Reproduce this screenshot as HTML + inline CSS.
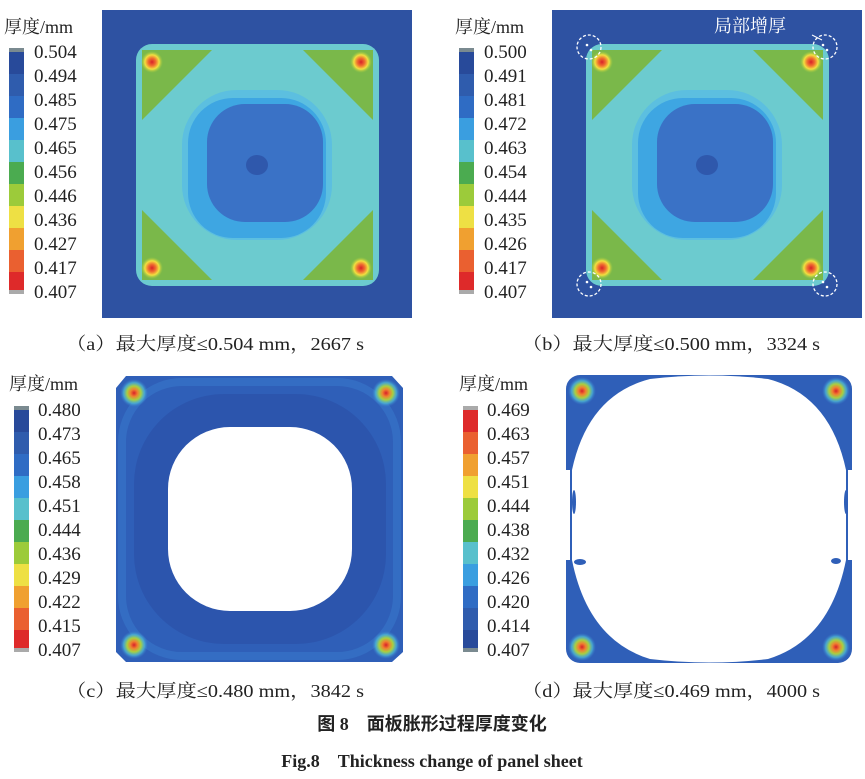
<!DOCTYPE html>
<html><head><meta charset="utf-8"><style>
body{margin:0;background:#fff;width:865px;height:779px;overflow:hidden}
svg{display:block}
text{font-family:"Liberation Serif","Noto Serif CJK SC",serif;fill:#222}
.l{font-size:19px}
.t{font-size:18px}
.c{font-size:18px}
</style></head><body>
<svg width="865" height="779" viewBox="0 0 865 779" xmlns="http://www.w3.org/2000/svg">
<defs>
<radialGradient id="hot"><stop offset="0" stop-color="#d8202a"/><stop offset="0.35" stop-color="#f07030"/><stop offset="0.65" stop-color="#f2e040"/><stop offset="1" stop-color="#9cc840" stop-opacity="0"/></radialGradient>
<radialGradient id="hotc"><stop offset="0" stop-color="#d8202a"/><stop offset="0.25" stop-color="#f08030"/><stop offset="0.5" stop-color="#a8d040"/><stop offset="0.75" stop-color="#50c0d8" stop-opacity="0.7"/><stop offset="1" stop-color="#3a80d0" stop-opacity="0"/></radialGradient>
<g id="legA">
<rect x="0" y="0" width="15" height="4" fill="#7a8a90"/>
<rect x="0" y="4" width="15" height="22" fill="#284a9a"/>
<rect x="0" y="26" width="15" height="22" fill="#2f5cad"/>
<rect x="0" y="48" width="15" height="22" fill="#2f6cc4"/>
<rect x="0" y="70" width="15" height="22" fill="#3a9ee0"/>
<rect x="0" y="92" width="15" height="22" fill="#58c0cc"/>
<rect x="0" y="114" width="15" height="22" fill="#4bab50"/>
<rect x="0" y="136" width="15" height="22" fill="#9ccb3a"/>
<rect x="0" y="158" width="15" height="22" fill="#eee044"/>
<rect x="0" y="180" width="15" height="22" fill="#f0a030"/>
<rect x="0" y="202" width="15" height="22" fill="#ea6030"/>
<rect x="0" y="224" width="15" height="18" fill="#de2a2a"/>
<rect x="0" y="242" width="15" height="4" fill="#aaa"/>
</g>
<g id="legD">
<rect x="0" y="0" width="15" height="4" fill="#aaa"/>
<rect x="0" y="4" width="15" height="22" fill="#de2a2a"/>
<rect x="0" y="26" width="15" height="22" fill="#ea6030"/>
<rect x="0" y="48" width="15" height="22" fill="#f0a030"/>
<rect x="0" y="70" width="15" height="22" fill="#eee044"/>
<rect x="0" y="92" width="15" height="22" fill="#9ccb3a"/>
<rect x="0" y="114" width="15" height="22" fill="#4bab50"/>
<rect x="0" y="136" width="15" height="22" fill="#58c0cc"/>
<rect x="0" y="158" width="15" height="22" fill="#3a9ee0"/>
<rect x="0" y="180" width="15" height="22" fill="#2f6cc4"/>
<rect x="0" y="202" width="15" height="22" fill="#2f5cad"/>
<rect x="0" y="224" width="15" height="18" fill="#284a9a"/>
<rect x="0" y="242" width="15" height="4" fill="#7a8a90"/>
</g>
<g id="panelAB">
<rect x="0" y="0" width="310" height="308" fill="#2e52a2"/>
<rect x="34" y="34" width="243" height="242" rx="16" fill="#6ccbcf"/>
<polygon points="40,40 110,40 40,110" fill="#7ab84a"/>
<polygon points="271,40 201,40 271,110" fill="#7ab84a"/>
<polygon points="40,270 110,270 40,200" fill="#7ab84a"/>
<polygon points="271,270 201,270 271,200" fill="#7ab84a"/>
<rect x="80" y="80" width="150" height="150" rx="55" fill="#5cbfe0"/>
<rect x="86" y="88" width="138" height="140" rx="45" fill="#3ea6e2"/>
<rect x="105" y="94" width="116" height="118" rx="38" fill="#3a72c6"/>
<ellipse cx="155" cy="155" rx="11" ry="10" fill="#2f58ac"/>
<circle cx="50" cy="52" r="11" fill="url(#hot)"/>
<circle cx="259" cy="52" r="11" fill="url(#hot)"/>
<circle cx="50" cy="258" r="11" fill="url(#hot)"/>
<circle cx="259" cy="258" r="11" fill="url(#hot)"/>
</g>
</defs>

<!-- panel a -->
<text x="4" y="33" class="t">厚度/mm</text>
<use href="#legA" x="9" y="48"/>
<text x="34" y="58" class="l">0.504</text><text x="34" y="82" class="l">0.494</text><text x="34" y="106" class="l">0.485</text><text x="34" y="130" class="l">0.475</text><text x="34" y="154" class="l">0.465</text><text x="34" y="178" class="l">0.456</text><text x="34" y="202" class="l">0.446</text><text x="34" y="226" class="l">0.436</text><text x="34" y="250" class="l">0.427</text><text x="34" y="274" class="l">0.417</text><text x="34" y="298" class="l">0.407</text>
<use href="#panelAB" x="102" y="10"/>

<!-- panel b -->
<text x="455" y="33" class="t">厚度/mm</text>
<use href="#legA" x="459" y="48"/>
<text x="484" y="58" class="l">0.500</text><text x="484" y="82" class="l">0.491</text><text x="484" y="106" class="l">0.481</text><text x="484" y="130" class="l">0.472</text><text x="484" y="154" class="l">0.463</text><text x="484" y="178" class="l">0.454</text><text x="484" y="202" class="l">0.444</text><text x="484" y="226" class="l">0.435</text><text x="484" y="250" class="l">0.426</text><text x="484" y="274" class="l">0.417</text><text x="484" y="298" class="l">0.407</text>
<use href="#panelAB" x="552" y="10"/>
<g fill="none" stroke="#fff" stroke-width="1.3" stroke-dasharray="3,2">
<circle cx="589" cy="47" r="12"/><circle cx="825" cy="47" r="12"/><circle cx="589" cy="284" r="12"/><circle cx="825" cy="284" r="12"/>
</g>
<g fill="#fff"><circle cx="587" cy="45" r="1.3"/><circle cx="591" cy="50" r="1.3"/><circle cx="823" cy="45" r="1.3"/><circle cx="827" cy="50" r="1.3"/><circle cx="587" cy="282" r="1.3"/><circle cx="591" cy="287" r="1.3"/><circle cx="823" cy="282" r="1.3"/><circle cx="827" cy="287" r="1.3"/></g>
<line x1="812" y1="35" x2="822" y2="40" stroke="#fff" stroke-width="1"/>
<text x="714" y="32" class="t" style="fill:#fff">局部增厚</text>

<!-- panel c -->
<text x="9" y="390" class="t">厚度/mm</text>
<use href="#legA" x="14" y="406"/>
<text x="38" y="416" class="l">0.480</text><text x="38" y="440" class="l">0.473</text><text x="38" y="464" class="l">0.465</text><text x="38" y="488" class="l">0.458</text><text x="38" y="512" class="l">0.451</text><text x="38" y="536" class="l">0.444</text><text x="38" y="560" class="l">0.436</text><text x="38" y="584" class="l">0.429</text><text x="38" y="608" class="l">0.422</text><text x="38" y="632" class="l">0.415</text><text x="38" y="656" class="l">0.407</text>
<path d="M126,376 L392,376 L403,388 L403,652 L392,662 L126,662 L116,652 L116,388 Z" fill="#2f5fb8"/>
<rect x="122" y="382" width="275" height="274" rx="60" fill="none" stroke="#3f8ad8" stroke-width="8" opacity="0.35"/>
<rect x="134" y="394" width="252" height="250" rx="90" fill="#2c55ad"/>
<circle cx="134" cy="393" r="14" fill="url(#hotc)"/>
<circle cx="386" cy="393" r="14" fill="url(#hotc)"/>
<circle cx="134" cy="645" r="14" fill="url(#hotc)"/>
<circle cx="386" cy="645" r="14" fill="url(#hotc)"/>
<rect x="168" y="427" width="184" height="184" rx="62" fill="#fff"/>

<!-- panel d -->
<text x="459" y="390" class="t">厚度/mm</text>
<use href="#legD" x="463" y="406"/>
<text x="487" y="416" class="l">0.469</text><text x="487" y="440" class="l">0.463</text><text x="487" y="464" class="l">0.457</text><text x="487" y="488" class="l">0.451</text><text x="487" y="512" class="l">0.444</text><text x="487" y="536" class="l">0.438</text><text x="487" y="560" class="l">0.432</text><text x="487" y="584" class="l">0.426</text><text x="487" y="608" class="l">0.420</text><text x="487" y="632" class="l">0.414</text><text x="487" y="656" class="l">0.407</text>
<rect x="566" y="375" width="286" height="288" rx="14" fill="#2f5fb8"/>
<circle cx="582" cy="391" r="14" fill="url(#hotc)"/>
<circle cx="836" cy="391" r="14" fill="url(#hotc)"/>
<circle cx="582" cy="647" r="14" fill="url(#hotc)"/>
<circle cx="836" cy="647" r="14" fill="url(#hotc)"/>
<path d="M560,470 L560,560 L570,560 L570,470 Z M848,470 L858,470 L858,560 L848,560 Z" fill="#fff"/>
<path d="M650,379 Q709,372 768,379 Q830,395 846,470 L846,560 Q830,640 768,659 Q709,666 650,659 Q588,640 572,560 L572,470 Q588,395 650,379 Z" fill="#fff"/>
<ellipse cx="574" cy="502" rx="2" ry="12" fill="#2f5fb8"/>
<ellipse cx="846" cy="502" rx="2" ry="12" fill="#2f5fb8"/>
<ellipse cx="580" cy="562" rx="6" ry="3" fill="#2f5fb8"/>
<ellipse cx="836" cy="561" rx="5" ry="3" fill="#2f5fb8"/>

<!-- captions -->
<text x="66" y="350" class="c" textLength="298" lengthAdjust="spacingAndGlyphs">（a）最大厚度≤0.504 mm，2667 s</text>
<text x="522" y="350" class="c" textLength="298" lengthAdjust="spacingAndGlyphs">（b）最大厚度≤0.500 mm，3324 s</text>
<text x="66" y="697" class="c" textLength="298" lengthAdjust="spacingAndGlyphs">（c）最大厚度≤0.480 mm，3842 s</text>
<text x="522" y="697" class="c" textLength="298" lengthAdjust="spacingAndGlyphs">（d）最大厚度≤0.469 mm，4000 s</text>
<text x="432" y="730" text-anchor="middle" style="font-size:18px;font-weight:bold;font-family:'Liberation Serif','Noto Sans CJK SC',sans-serif">图 8　面板胀形过程厚度变化</text>
<text x="432" y="767" text-anchor="middle" style="font-size:18px;font-weight:bold">Fig.8　Thickness change of panel sheet</text>
</svg>
</body></html>
